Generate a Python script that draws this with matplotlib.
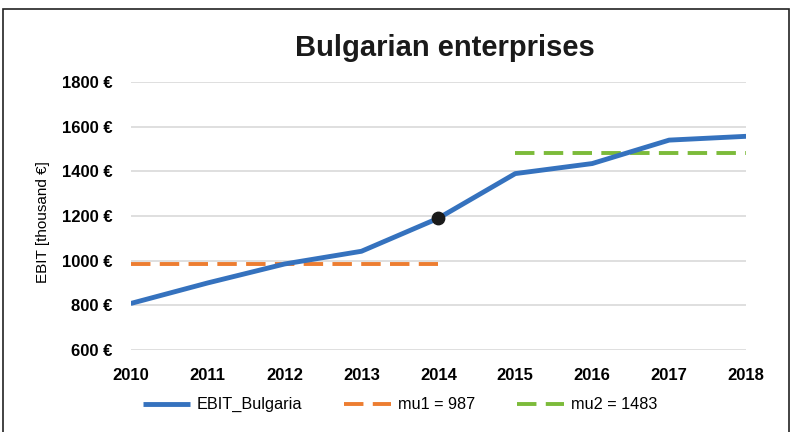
import numpy as np
import matplotlib
matplotlib.use("Agg")
import matplotlib.pyplot as plt
from matplotlib.patches import Rectangle

plt.rcParams['font.family'] = ['Liberation Sans', 'DejaVu Sans']

# Données
years = [2010, 2011, 2012, 2013, 2014, 2015, 2016, 2017, 2018]
ebit = [808, 900, 985, 1042, 1190, 1390, 1435, 1540, 1557]
mu1_years = [2010, 2014]
mu1 = 987
mu2_years = [2015, 2018]
mu2 = 1483
highlight_year = 2014
highlight_value = 1190

fig = plt.figure(figsize=(7.92, 4.32), dpi=100)
ax = fig.add_axes([0.165, 0.19, 0.777, 0.62])

ax.plot(years, ebit, color='#3572BE', linewidth=3.5, label='EBIT_Bulgaria',
        solid_capstyle='butt', zorder=3)
ax.plot(mu1_years, [mu1, mu1], color='#ED7D31', linewidth=2.8,
        dashes=(5, 2.4), label='mu1 = 987', zorder=2)
ax.plot(mu2_years, [mu2, mu2], color='#7CBB3A', linewidth=2.8,
        dashes=(5, 2.4), label='mu2 = 1483', zorder=2)
ax.scatter([highlight_year], [highlight_value], s=80, color='#1A1A1A', zorder=4)

ax.set_xlim(2010, 2018)
ax.set_ylim(600, 1800)
ax.set_yticks(np.arange(600, 1801, 200))
ax.set_yticklabels([f"{v} €" for v in range(600, 1801, 200)])
ax.set_xticks(years)
ax.tick_params(axis='x', length=0, labelsize=12, pad=13)
ax.tick_params(axis='y', length=0, labelsize=12, pad=13)
for lab in ax.get_xticklabels() + ax.get_yticklabels():
    lab.set_fontweight('bold')
ax.grid(axis='y', color='#D9D9D9', linewidth=1.2)
ax.set_axisbelow(True)
for s in ax.spines.values():
    s.set_visible(False)

fig.text(0.054, 0.486, "EBIT [thousand €]", rotation=90, ha='center', va='center',
         fontsize=11)
fig.text(0.562, 0.889, "Bulgarian enterprises", ha='center', va='center',
         fontsize=21, fontweight='bold', color='#1A1A1A')

fig.legend(loc='center', bbox_to_anchor=(0.505, 0.063), ncol=3, frameon=False,
           fontsize=11.7, handlelength=2.9, handletextpad=0.4, columnspacing=2.6)

fig.patches.append(Rectangle((0.004, -0.01), 0.992, 0.99, transform=fig.transFigure,
                             fill=False, edgecolor='#222222', linewidth=1.2))

plt.savefig("out.png", dpi=100)
